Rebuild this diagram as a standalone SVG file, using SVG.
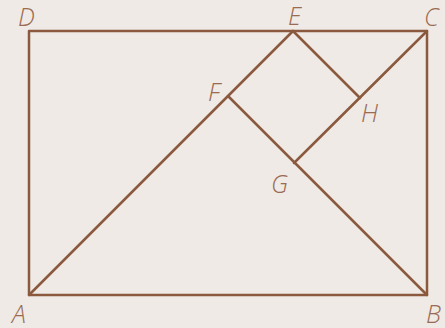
<svg xmlns="http://www.w3.org/2000/svg" width="445" height="328" viewBox="0 0 445 328">
<style>
.ln{stroke:#8b5a3e;stroke-width:2.5;fill:none;stroke-linecap:round;stroke-linejoin:round}
.lb{font-family:"Open Sans",sans-serif;font-style:italic;font-weight:300;font-size:25px;fill:#9a6a52}
</style>
<rect width="445" height="328" fill="#efeae5"/>
<g id="connectors">
<rect class="ln" x="29" y="31" width="398" height="264"/>
<line class="ln" x1="29" y1="295" x2="293" y2="31"/>
<line class="ln" x1="228" y1="96" x2="427" y2="295"/>
<line class="ln" x1="293" y1="31" x2="360" y2="98"/>
<line class="ln" x1="427" y1="31" x2="294" y2="163"/>
</g>
<g id="A"><text class="lb" x="12" y="323">A</text></g>
<g id="B"><text class="lb" x="426" y="323">B</text></g>
<g id="C"><text class="lb" x="424" y="26">C</text></g>
<g id="D"><text class="lb" x="18" y="26">D</text></g>
<g id="E"><text class="lb" x="288" y="25">E</text></g>
<g id="F"><text class="lb" x="208" y="101">F</text></g>
<g id="G"><text class="lb" x="271" y="193">G</text></g>
<g id="H"><text class="lb" x="361" y="122">H</text></g>
</svg>
